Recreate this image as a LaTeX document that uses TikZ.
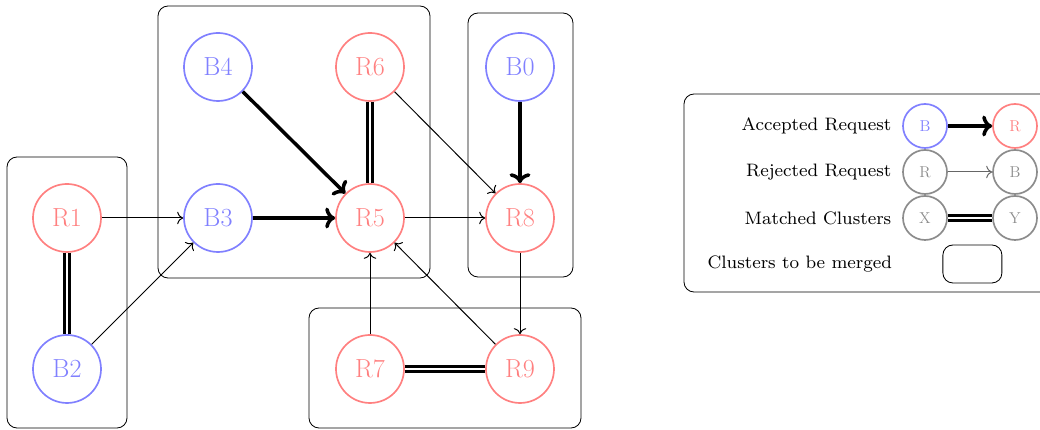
\documentclass[tikz,border=0pt]{standalone}
\usepackage{amsmath}
\usepackage{xcolor}
\usetikzlibrary{arrows,arrows.meta,positioning}

\begin{document}
\begin{tikzpicture}[
  bnode/.style={circle,draw=blue!50,line width=1.2pt,text=blue!50,minimum size=1.7cm,inner sep=0pt,font=\fontsize{18.6}{22}\selectfont},
  rnode/.style={circle,draw=red!50,line width=1.2pt,text=red!50,minimum size=1.7cm,inner sep=0pt,font=\fontsize{18.6}{22}\selectfont},
  lbnode/.style={bnode,minimum size=1.1cm,font=\fontsize{11.2}{13}\selectfont},
  lrnode/.style={rnode,minimum size=1.1cm,font=\fontsize{11.2}{13}\selectfont},
  lgnode/.style={circle,draw=black!45,line width=1.2pt,text=black!45,minimum size=1.1cm,inner sep=0pt,font=\fontsize{11.2}{13}\selectfont},
  ltext/.style={anchor=east,font=\footnotesize,scale=1.6,transform shape},
  cluster/.style={draw=black,line width=0.6pt,rounded corners=0.25cm},
  rejected/.style={-{To[scale=1.35]},line width=0.7pt},
  accepted/.style={->,line width=2.5pt},
  matched/.style={double,line width=2pt,double distance=1pt}
]
\useasboundingbox (0,0) rectangle (26,10.75);
% clusters
\draw[cluster] (0.175,0.05) rectangle (3.175,6.825);
\draw[cluster] (3.95,3.8) rectangle (10.75,10.6);
\draw[cluster] (11.7,3.825) rectangle (14.325,10.425);
\draw[cluster] (7.725,0.05) rectangle (14.525,3.05);
% requests
\node[bnode] (b4) at (5.45,9.075) {B4};
\node[rnode] (r6) at (9.25,9.075) {R6};
\node[bnode] (b0) at (13,9.075) {B0};
\node[rnode] (r1) at (1.675,5.3) {R1};
\node[bnode] (b3) at (5.45,5.3) {B3};
\node[rnode] (r5) at (9.25,5.3) {R5};
\node[rnode] (r8) at (13,5.3) {R8};
\node[bnode] (b2) at (1.675,1.525) {B2};
\node[rnode] (r7) at (9.25,1.525) {R7};
\node[rnode] (r9) at (13,1.525) {R9};
    \draw[matched] (r1) to (b2);
      \draw[rejected] (r1) to (b3);
        \draw[rejected] (b2) to (b3);
          \draw[accepted] (b3) to (r5);
            \draw[accepted] (b4) to (r5);
              \draw[matched] (r6) to (r5);
    \draw[rejected] (r6) to (r8);
      \draw[rejected] (r5) to (r8);
        \draw[accepted] (b0) to (r8);
          \draw[rejected] (r8) to (r9);
            \draw[rejected] (r7) to (r5);
              \draw[rejected] (r9) to (r5);
                \draw[matched] (r7) to (r9);
% legend
\draw[cluster] (17.1,3.45) rectangle (26.3,8.4);
\node[ltext] (acc) at (22.48,7.6) {Accepted Request};
\node[ltext] (rej) at (22.48,6.45) {Rejected Request};
\node[ltext] (mat) at (22.48,5.3) {Matched Clusters};
\node[ltext] (mer) at (22.5,4.15) {Clusters to be merged};
\node[lbnode] (la) at (23.125,7.6) {B};
\node[lrnode] (lb) at (25.375,7.6) {R};
\node[lgnode] (lc) at (23.125,6.45) {R};
\node[lgnode] (ld) at (25.375,6.45) {B};
\node[lgnode] (le) at (23.125,5.3) {X};
\node[lgnode] (lf) at (25.375,5.3) {Y};
\node[cluster,minimum width=1.475cm,minimum height=0.95cm] (lg) at (24.31,4.15) {};
    \draw[accepted] (la) to (lb);
      \draw[rejected,black!60] (lc) to (ld);
        \draw[matched] (le) to (lf);
\end{tikzpicture}
\end{document}
